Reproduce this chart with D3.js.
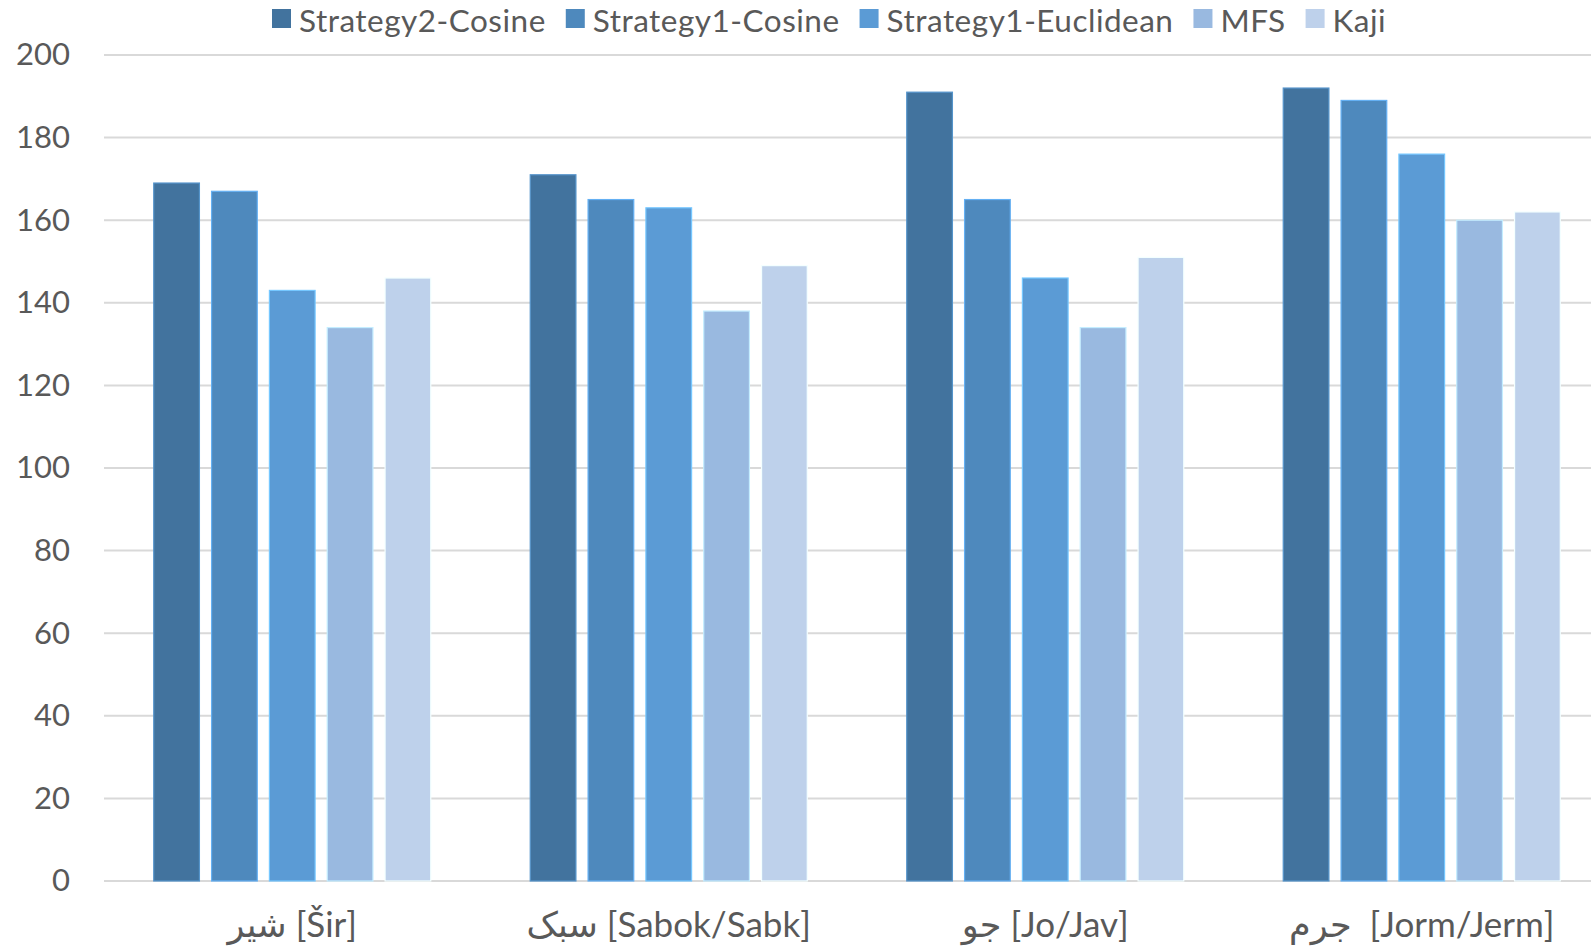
<!DOCTYPE html>
<html>
<head>
<meta charset="utf-8">
<script src="https://cdn.jsdelivr.net/npm/d3@7"></script>
<style>
  html, body { margin: 0; padding: 0; background: #fff; }
  svg { display: block; }
  text { font-family: Lato, "Open Sans", "DejaVu Sans", sans-serif; fill: #595959; }
</style>
</head>
<body>
<svg id="chart" width="1591" height="952"></svg>
<script>
// Word groups on the x axis
const categories = ["شير [Šir]", "سبک [Sabok/Sabk]", "جو [Jo/Jav]", "جرم  [Jorm/Jerm]"];

// Series names, in legend / bar order
const seriesNames = ["Strategy2-Cosine", "Strategy1-Cosine", "Strategy1-Euclidean", "MFS", "Kaji"];

// Values per series, one per category
const strategy2Cosine    = [169, 171, 191, 192];
const strategy1Cosine    = [167, 165, 165, 189];
const strategy1Euclidean = [143, 163, 146, 176];
const mfs                = [134, 138, 134, 160];
const kaji               = [146, 149, 151, 162];

const yTicks = [0, 20, 40, 60, 80, 100, 120, 140, 160, 180, 200];

const seriesValues = [strategy2Cosine, strategy1Cosine, strategy1Euclidean, mfs, kaji];
const colors = ["#42739E", "#4E89BD", "#5B9BD5", "#99B9E0", "#BED1EB"];

const svg = d3.select("#chart");
const W = 1591, H = 952;
// The plot area runs slightly past the right edge of the canvas
const plotLeft = 104, plotRight = 1610;
const plotTop = 55, plotBottom = 881;

const x0 = d3.scaleBand()
  .domain(categories)
  .range([plotLeft, plotRight])
  .paddingInner(0)
  .paddingOuter(0);

const x1 = d3.scaleBand()
  .domain(seriesNames)
  .range([0, x0.bandwidth()])
  .paddingInner(0.21)
  .paddingOuter(0.86);

const y = d3.scaleLinear()
  .domain([0, 200])
  .range([plotBottom, plotTop]);

// Horizontal gridlines
svg.append("g")
  .selectAll("line")
  .data(yTicks)
  .join("line")
  .attr("x1", plotLeft)
  .attr("x2", plotRight)
  .attr("y1", d => y(d))
  .attr("y2", d => y(d))
  .attr("stroke", "#d9d9d9")
  .attr("stroke-width", 2);

// Y axis labels
const yAxis = svg.append("g")
  .attr("transform", `translate(${plotLeft},0)`)
  .call(d3.axisLeft(y).tickValues(yTicks).tickSize(0).tickPadding(34));
yAxis.select(".domain").remove();
yAxis.selectAll("text")
  .attr("font-size", 31)
  .attr("fill", "#595959")
  .style("font-family", "Lato, 'Open Sans', sans-serif");

// Bars
const groups = svg.append("g")
  .selectAll("g")
  .data(categories)
  .join("g")
  .attr("transform", d => `translate(${x0(d)},0)`);

groups.selectAll("rect")
  .data((c, ci) => seriesNames.map((s, si) => ({ s, si, v: seriesValues[si][ci] })))
  .join("rect")
  .attr("x", d => x1(d.s))
  .attr("width", x1.bandwidth())
  .attr("y", d => y(d.v))
  .attr("height", d => y(0) - y(d.v))
  .attr("fill", d => colors[d.si])
  .attr("stroke", d => d3.color(colors[d.si]).brighter(0.7))
  .attr("stroke-width", 1.2);

// X axis labels
const xAxis = svg.append("g")
  .attr("transform", `translate(0,${plotBottom})`)
  .call(d3.axisBottom(x0).tickSize(0).tickPadding(31));
xAxis.select(".domain").remove();
xAxis.selectAll("text")
  .attr("font-size", 35)
  .attr("fill", "#1f1f1f")
  .style("white-space", "pre")
  .style("font-family", "Lato, 'DejaVu Sans', sans-serif");

// Legend
const legend = svg.append("g").attr("transform", "translate(272,0)");
let lx = 0;
seriesNames.forEach((name, i) => {
  const g = legend.append("g").attr("transform", `translate(${lx},0)`);
  g.append("rect")
    .attr("x", 0).attr("y", 9)
    .attr("width", 19).attr("height", 19)
    .attr("fill", colors[i]);
  const t = g.append("text")
    .attr("x", 27).attr("y", 31.5)
    .attr("font-size", 31.5)
    .attr("letter-spacing", 0.5)
    .text(name);
  lx += 27 + t.node().getComputedTextLength() + 20;
});
</script>
</body>
</html>
